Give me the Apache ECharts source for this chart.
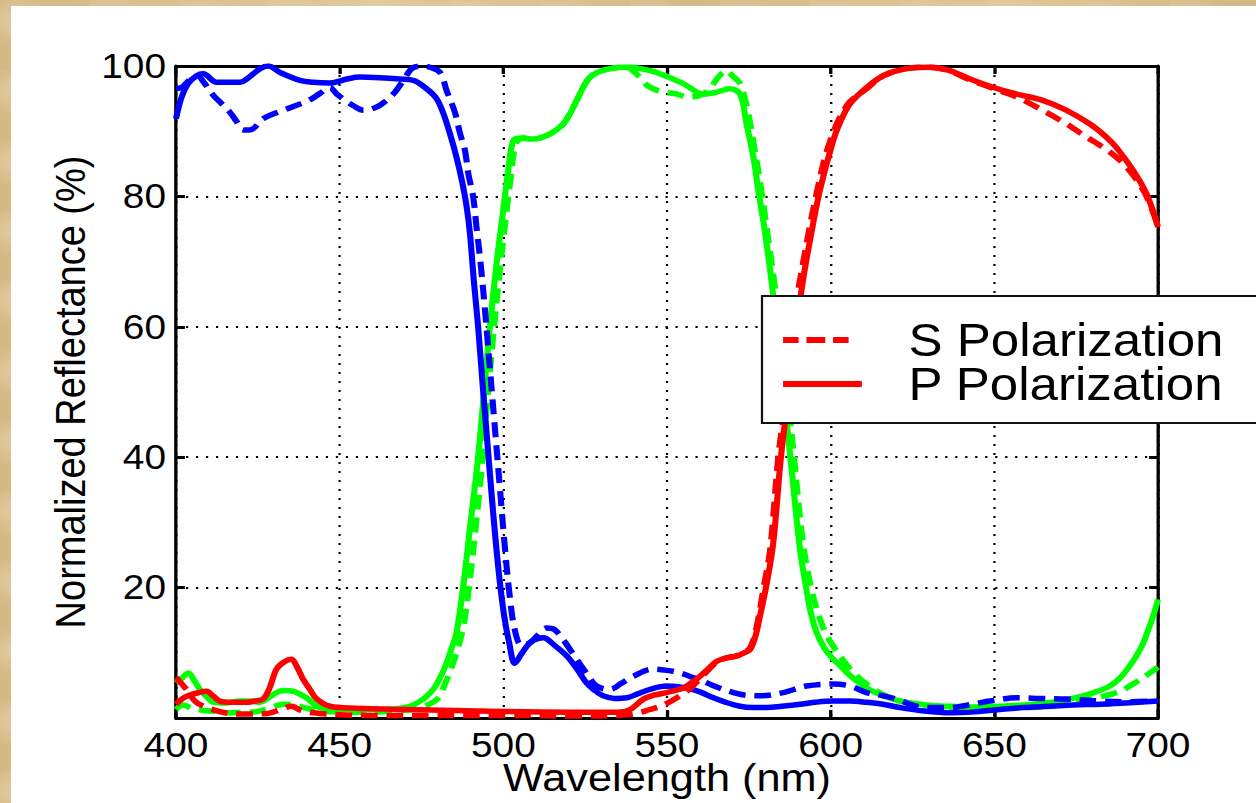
<!DOCTYPE html>
<html>
<head>
<meta charset="utf-8">
<title>Normalized Reflectance vs Wavelength</title>
<script src="https://cdn.jsdelivr.net/npm/echarts@6/dist/echarts.min.js"></script>
<style>
  html, body {
    margin: 0;
    padding: 0;
    width: 1256px;
    height: 803px;
    overflow: hidden;
  }
  body {
    background-color: #d9bf8d;
    background-image:
      radial-gradient(ellipse 40px 25px at 20% 30%, rgba(236, 220, 186, 0.55), transparent),
      radial-gradient(ellipse 30px 40px at 70% 60%, rgba(196, 160, 105, 0.45), transparent),
      radial-gradient(ellipse 25px 18px at 45% 85%, rgba(240, 226, 195, 0.5), transparent),
      linear-gradient(90deg, #d4b986 0%, #e0c99b 30%, #d5ba88 55%, #dfc797 80%, #d3b784 100%);
    background-size: 90px 70px, 110px 95px, 70px 60px, 100% 100%;
  }
  #chart {
    position: absolute;
    left: 11px;
    top: 6px;
    height: 797px;
    background: #ffffff;
    transform-origin: 0 0;
  }
</style>
</head>
<body>
<div id="chart"></div>
<script>
// Wavelength ticks and reflectance ticks
const xTicks = [400, 450, 500, 550, 600, 650, 700];
const yTicks = [0, 20, 40, 60, 80, 100];

// Blue band, P polarization (solid)
const blueP_nm = [400, 401.7, 403.7, 406.3, 408.3, 412.4, 419.6, 421.6, 425.7, 428.2, 431.8, 437.9, 442, 447, 452.2, 456.2, 462.3, 468.4, 472.5, 476.6, 479.6, 481.7, 483.7, 485.7, 487.3, 488.8, 489.8, 491, 492.3, 493.7, 495, 496.3, 497.6, 498.9, 500.3, 501.8, 503.5, 505.5, 507.5, 509.5, 512.2, 515.5, 519.4, 522.5, 525.4, 528, 530.5, 534, 537.7, 541, 544.8, 549.9, 556, 560, 564.2, 568, 572.3, 576, 580.5, 585, 590.6, 595, 600.8, 605.9, 611, 616, 621.2, 628, 636.4, 643, 651.7, 659, 667, 674, 682.3, 690, 700];
const blueP_pct = [91.9, 95.2, 97.3, 98.5, 98.8, 97.5, 97.5, 98.0, 99.6, 100, 99.0, 97.8, 97.5, 97.4, 98.0, 98.3, 98.2, 98.0, 97.8, 96.5, 95.0, 92.7, 89.6, 86.0, 82.5, 78.4, 74.3, 67, 60, 51, 43, 35, 27.5, 21, 15.5, 11.5, 8.4, 9.8, 11.2, 12, 12.3, 11.2, 9.5, 7.5, 5.4, 4.2, 3.4, 3.0, 3.1, 3.7, 4.4, 4.9, 4.6, 4.0, 3.1, 2.4, 1.8, 1.6, 1.6, 1.8, 2.1, 2.4, 2.6, 2.6, 2.4, 2.1, 1.6, 1.1, 0.8, 0.9, 1.3, 1.6, 1.8, 2.0, 2.1, 2.3, 2.6];

// Blue band, S polarization (dashed)
const blueS_nm = [400, 402, 404, 406.5, 408.5, 411.4, 414, 416.5, 418.5, 420.6, 422.6, 426.6, 430, 433.8, 437.5, 440.9, 444, 447, 449.1, 451.5, 454.2, 457.2, 461.3, 464, 466.4, 469.5, 472, 475, 477.6, 480.7, 482.7, 485.2, 486.8, 488.3, 489.3, 490.8, 491.8, 493, 494.5, 496, 497.5, 499, 500.5, 502, 503.5, 505.5, 508, 510.5, 513.2, 515.5, 518.3, 522.4, 525.5, 528.5, 532.6, 536, 539.7, 545.8, 550, 554, 558, 562.1, 566, 570.3, 574, 578.4, 585.5, 592.6, 600.8, 605.9, 611, 616.1, 620.1, 626.2, 631, 636.4, 642, 648.7, 656.8, 664, 672, 682.3, 690, 700];
const blueS_pct = [96.5, 96.8, 97.8, 98.5, 97.5, 95.5, 94.2, 92.9, 91.5, 90.2, 90.2, 91.9, 92.7, 93.4, 94.1, 94.8, 95.8, 96.7, 95.7, 94.8, 93.9, 93.2, 93.7, 94.6, 95.7, 97.8, 99.6, 100, 99.8, 99.0, 96.2, 92.9, 89.6, 87, 83.5, 79.9, 75.3, 70, 62, 53, 44, 35, 26, 18.5, 13.5, 11.2, 11.5, 12.7, 13.8, 13.6, 12, 9, 6.8, 4.9, 4.4, 5.3, 6.4, 7.5, 7.3, 6.9, 6.2, 5.4, 4.6, 3.9, 3.5, 3.4, 3.9, 4.9, 5.2, 4.9, 3.9, 3.4, 2.9, 1.8, 1.6, 1.6, 2.0, 2.6, 3.1, 3.0, 2.9, 2.6, 2.5, 2.6];

// Green band, P polarization (solid)
const greenP_nm = [400, 402, 403.8, 405.5, 407.3, 409.5, 411.4, 415, 419.6, 422.5, 425.7, 428, 430.7, 433, 435.8, 438, 439.9, 442, 444, 448, 455, 465, 470, 472.5, 474.6, 476.5, 478.6, 480.7, 482.7, 484.2, 485.7, 487.7, 490, 492.3, 494.1, 495.9, 498, 500, 501.5, 503, 505, 509.2, 514.3, 518.3, 520.5, 522.4, 524.5, 526.5, 529.5, 532.6, 537.7, 544.8, 550, 555, 561.1, 565.2, 569.2, 572.3, 574.3, 576.4, 577.9, 580, 582.4, 584.2, 586, 588, 590.6, 592.5, 594, 595.7, 598, 600.8, 603, 605.9, 611, 616.1, 621.2, 626.2, 631, 636.4, 644, 651.7, 659, 667, 672, 677.1, 681, 685.3, 688.5, 691.4, 693.5, 695.5, 697, 698.5, 700];
const greenP_pct = [5.4, 6.2, 6.9, 5.8, 4.4, 3.2, 2.4, 2.3, 2.6, 2.6, 2.4, 3.0, 3.9, 4.2, 4.1, 3.6, 3.1, 2.2, 1.6, 1.3, 1.3, 1.3, 1.6, 2.0, 2.6, 3.3, 4.4, 6.2, 8.5, 10.7, 13.1, 20, 30, 40, 50, 60, 70, 78, 84, 88.5, 88.9, 88.8, 89.6, 91.1, 92.8, 94.7, 96.8, 98.3, 99.2, 99.6, 99.8, 99.3, 98.4, 97.3, 95.7, 96.0, 96.5, 95.7, 91.1, 86, 80.9, 74.3, 65, 56, 48, 38.5, 26, 20, 16, 13.1, 10.8, 9.0, 8.0, 6.5, 4.6, 3.4, 2.6, 2.2, 1.9, 1.8, 1.7, 1.8, 2.0, 2.4, 2.8, 3.4, 4.0, 4.9, 6.2, 8.0, 9.6, 11.5, 13.5, 15.6, 18.2];

// Green band, S polarization (dashed)
const greenS_nm = [400, 402, 405, 408, 412, 416, 420, 425, 429, 432.8, 436, 440, 445, 455, 465, 472, 476, 480, 482, 484, 486, 487.8, 489.5, 491.3, 493.3, 495, 496.8, 498.8, 500.8, 502.3, 503.8, 506, 509, 514.3, 518.3, 522.4, 526.5, 532.6, 537.7, 539.5, 541.8, 544, 546.8, 549, 553, 556.5, 561.1, 563.5, 565.7, 568.2, 570, 572.3, 574.5, 576.5, 578.5, 580.5, 583, 585, 587, 589, 591.5, 594, 596.5, 599, 601.5, 606.5, 611.5, 616.5, 621.5, 626.5, 636.5, 650, 660, 667, 672, 677, 682, 687.3, 691, 695.5, 700];
const greenS_pct = [1.3, 2.0, 1.5, 1.2, 1.0, 0.8, 0.9, 1.0, 1.6, 2.1, 2.0, 1.5, 1.0, 0.9, 1.0, 1.3, 1.8, 3.0, 5.0, 7.5, 10.5, 14, 20, 28, 38, 48, 58, 68, 77, 83, 88, 89, 88.8, 89.6, 91.1, 94.7, 98.3, 99.6, 99.8, 99.3, 98.2, 97.0, 96.3, 96.0, 95.7, 95.2, 95.7, 96.8, 98.3, 99.3, 98.5, 97.3, 93.5, 88, 82, 75, 66, 58, 49, 39, 27, 20, 15.5, 12.5, 10.5, 7.2, 5.0, 3.5, 2.6, 2.1, 1.6, 1.5, 1.6, 1.8, 2.2, 2.6, 3.2, 3.9, 4.8, 6.2, 7.8];

// Red band, P polarization (solid)
const redP_nm = [400, 402, 404.7, 407, 409.3, 411.5, 413.4, 417, 421.6, 424, 426.6, 428.5, 430.7, 433, 435.3, 437, 438.9, 441, 443, 447, 455, 470, 500, 520, 535, 538.7, 542.8, 546, 549.9, 555, 557.5, 560.1, 562.5, 565.2, 568, 571.3, 573.5, 575.4, 577, 578.4, 580.5, 582.5, 584.8, 587.2, 589.6, 591.5, 593.7, 596.7, 600.8, 603, 605.9, 611, 616.1, 623.2, 630.3, 636.4, 642.6, 649.7, 656.8, 665, 672.1, 679.2, 684, 687.3, 692.4, 696.5, 700];
const redP_pct = [2.1, 3.0, 3.6, 3.9, 4.1, 3.3, 2.6, 2.4, 2.4, 2.6, 2.9, 4.5, 7.5, 8.6, 9.0, 7.8, 5.9, 4.3, 2.9, 1.8, 1.5, 1.3, 1.0, 0.9, 0.9, 1.3, 2.9, 3.5, 3.9, 4.6, 5.4, 6.4, 7.5, 8.7, 9.2, 9.5, 10.0, 10.5, 12.5, 15.6, 20.7, 27, 40, 50, 60, 67, 73.3, 80.9, 88.6, 91.5, 94.2, 96.7, 98.5, 99.6, 99.8, 99.3, 98, 96.7, 95.7, 94.7, 93.2, 91.1, 89.2, 87.5, 84, 80.4, 75.3];

// Red band, S polarization (dashed)
const redS_nm = [400, 403, 406, 410, 415, 420, 428, 432, 435.3, 438, 442, 450, 460, 480, 500, 523.4, 535, 540, 544.8, 549, 554, 557, 560, 562.5, 565, 568, 571, 573, 575, 576.4, 578, 579.4, 581.5, 584, 586.5, 589, 592, 595.5, 599.5, 605, 611, 616, 623, 630, 636, 642, 650, 657, 664, 671.1, 678.2, 685.3, 690.4, 696, 700];
const redS_pct = [6.2, 4.5, 2.5, 1.5, 0.8, 0.6, 0.7, 1.3, 1.8, 1.2, 0.8, 0.5, 0.4, 0.4, 0.4, 0.3, 0.4, 0.6, 1.3, 2.0, 3.4, 4.5, 6.0, 7.3, 8.5, 9.2, 9.5, 10, 10.5, 12, 15.5, 19.7, 25.8, 40, 50, 62, 71, 80, 88, 94, 96.5, 98.5, 99.6, 99.8, 99.3, 98, 96.5, 95.2, 93.4, 91.4, 89.1, 86.8, 84.5, 80.5, 75.5];

// Legend labels
const legendNames = ['S Polarization', 'P Polarization'];

// The figure is drawn in its own units and then stretched horizontally.
const STRETCH = 1.11;
const PAGE_W = 1256, PAGE_H = 803, PANEL_X = 11, PANEL_Y = 6;
const FONT = '"Liberation Sans", Arial, Helvetica, sans-serif';

const panelW = (PAGE_W - PANEL_X) / STRETCH;
const dom = document.getElementById('chart');
dom.style.width = panelW + 'px';
dom.style.transform = 'scaleX(' + STRETCH + ')';

const zip = (xs, ys) => xs.map((x, i) => [x, ys[i]]);

const BLUE = '#0000ff', GREEN = '#00ff00', RED = '#ff0000';
const DASH = [15, 8];
const LINE_W = 5.5;

function curve(name, color, xs, ys, dashed) {
  return {
    name: name,
    type: 'line',
    data: zip(xs, ys),
    showSymbol: false,
    symbol: 'none',
    smooth: 0.35,
    lineStyle: { color: color, width: LINE_W, type: dashed ? DASH : 'solid', cap: 'butt', join: 'round' },
    itemStyle: { color: color },
    emphasis: { disabled: true },
    animation: false
  };
}

// Legend swatches: a short dashed stroke and a plain stroke, 71 x 6 units
const ICON_DASHED = 'path://M0,0H14V6H0Z M21,0H38V6H21Z M45,0H59V6H45Z M71,0L71,6L71,0Z';
const ICON_SOLID = 'path://M0,0H71V6H0Z';

const axisLine = { show: true, onZero: false, lineStyle: { color: '#000', width: 3 } };
const axisTick = { show: true, inside: true, length: 8, lineStyle: { color: '#000', width: 3 } };
const gridDots = { show: true, lineStyle: { color: '#000', width: 2, type: [2, 7] } };

const plotLeft = (176 - PANEL_X) / STRETCH;
const plotWidth = (1158 - 176) / STRETCH;

const option = {
  animation: false,
  backgroundColor: '#ffffff',
  grid: {
    left: plotLeft,
    top: 66 - PANEL_Y,
    width: plotWidth,
    height: 718 - 66,
    containLabel: false,
    outerBoundsMode: 'none'
  },
  xAxis: [
    {
      type: 'value',
      position: 'bottom',
      min: xTicks[0],
      max: xTicks[xTicks.length - 1],
      interval: xTicks[1] - xTicks[0],
      axisLine: axisLine,
      axisTick: axisTick,
      axisLabel: {
        color: '#000', fontSize: 35, lineHeight: 28, fontFamily: FONT, margin: 13,
        showMinLabel: true, showMaxLabel: true
      },
      splitLine: gridDots,
      name: 'Wavelength (nm)',
      nameLocation: 'middle',
      nameMoveOverlap: false,
      nameGap: 46,
      nameTextStyle: { color: '#000', fontSize: 39, lineHeight: 28, fontFamily: FONT }
    },
    {
      type: 'value',
      position: 'top',
      min: xTicks[0],
      max: xTicks[xTicks.length - 1],
      interval: xTicks[1] - xTicks[0],
      axisLine: axisLine,
      axisTick: axisTick,
      axisLabel: { show: false },
      splitLine: { show: false }
    }
  ],
  yAxis: [
    {
      type: 'value',
      position: 'left',
      min: yTicks[0],
      max: yTicks[yTicks.length - 1],
      interval: yTicks[1] - yTicks[0],
      axisLine: axisLine,
      axisTick: axisTick,
      axisLabel: {
        color: '#000', fontSize: 35, fontFamily: FONT, margin: 9,
        formatter: v => (v === 0 ? '' : String(v))
      },
      splitLine: gridDots,
      name: 'Normalized Reflectance (%)',
      nameLocation: 'middle',
      nameMoveOverlap: false,
      nameGap: 76,
      nameTextStyle: { color: '#000', fontSize: 38, fontFamily: FONT }
    },
    {
      type: 'value',
      position: 'right',
      min: yTicks[0],
      max: yTicks[yTicks.length - 1],
      interval: yTicks[1] - yTicks[0],
      axisLine: axisLine,
      axisTick: axisTick,
      axisLabel: { show: false },
      splitLine: { show: false }
    }
  ],
  legend: {
    data: [
      { name: legendNames[0], icon: ICON_DASHED },
      { name: legendNames[1], icon: ICON_SOLID }
    ],
    orient: 'vertical',
    left: (762 - PANEL_X) / STRETCH,
    top: 296 - PANEL_Y,
    padding: [21, 80, 16, 19],
    itemGap: -2,
    itemWidth: 71,
    itemHeight: 6,
    backgroundColor: '#ffffff',
    borderColor: '#111',
    borderWidth: 2,
    borderRadius: 0,
    selectedMode: false,
    itemStyle: { borderWidth: 0 },
    formatter: name => '{g|}{t|' + name + '}',
    textStyle: {
      lineHeight: 40,
      rich: {
        g: { width: 37, lineHeight: 40 },
        t: { fontSize: 46, fontFamily: FONT, color: '#000', lineHeight: 40 }
      }
    }
  },
  series: [
    curve('Green S', GREEN, greenS_nm, greenS_pct, true),
    curve('Green P', GREEN, greenP_nm, greenP_pct, false),
    curve('Blue S', BLUE, blueS_nm, blueS_pct, true),
    curve('Blue P', BLUE, blueP_nm, blueP_pct, false),
    curve(legendNames[0], RED, redS_nm, redS_pct, true),
    curve(legendNames[1], RED, redP_nm, redP_pct, false)
  ]
};

const chart = echarts.init(dom, null, { renderer: 'svg' });
chart.setOption(option);
</script>
</body>
</html>
